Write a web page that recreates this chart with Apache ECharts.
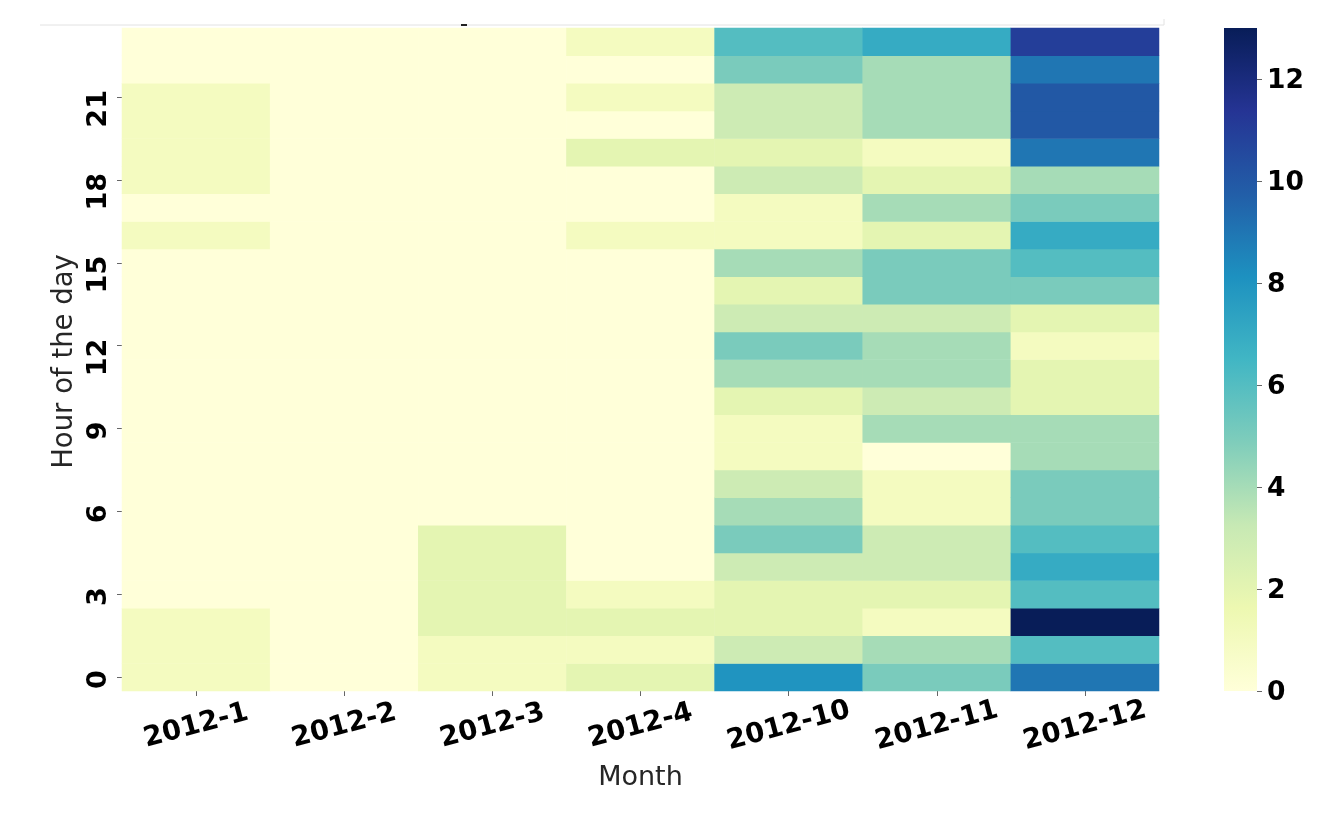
<!DOCTYPE html>
<html>
<head>
<meta charset="utf-8">
<title>Hour of the day by month</title>
<style>
html,body{margin:0;padding:0;background:#fff;}
#main{width:1333px;height:815px;}
</style>
<script src="https://cdn.jsdelivr.net/npm/echarts@6/dist/echarts.min.js"></script>
</head>
<body>
<div id="main"></div>
<script>
var months = ['2012-1','2012-2','2012-3','2012-4','2012-10','2012-11','2012-12'];
var hours = ['0','1','2','3','4','5','6','7','8','9','10','11','12','13','14','15','16','17','18','19','20','21','22','23'];

// counts per hour, hour 0 first
var m2012_1  = [1,1,1,0,0,0,0,0,0,0,0,0,0,0,0,0,1,0,1,1,1,1,0,0];
var m2012_2  = [0,0,0,0,0,0,0,0,0,0,0,0,0,0,0,0,0,0,0,0,0,0,0,0];
var m2012_3  = [1,1,2,2,2,2,0,0,0,0,0,0,0,0,0,0,0,0,0,0,0,0,0,0];
var m2012_4  = [2,1,2,1,0,0,0,0,0,0,0,0,0,0,0,0,1,0,0,2,0,1,0,1];
var m2012_10 = [8,3,2,2,3,5,4,3,1,1,2,4,5,3,2,4,1,1,3,2,3,3,5,6];
var m2012_11 = [5,4,1,2,3,3,1,1,0,4,3,4,4,3,5,5,2,4,2,1,4,4,4,7];
var m2012_12 = [9,6,13,6,7,6,5,5,4,4,2,2,1,2,5,6,7,5,4,9,10,10,9,11];
var columns = [m2012_1,m2012_2,m2012_3,m2012_4,m2012_10,m2012_11,m2012_12];

// seaborn YlGnBu
var ylGnBu = ['#ffffd9','#edf8b1','#c7e9b4','#7fcdbb','#41b6c4','#1d91c0','#225ea8','#253494','#081d58'];

var cells = [];
for(var c = 0; c < columns.length; c++){
	for(var h = 0; h < hours.length; h++){
		cells.push([c,h,columns[c][h]]);
	}
}

// colorbar is the background of the second grid (visualMap's own bar has round corners)
var barStops = ylGnBu.map(function(col,i){
	return {offset:i/(ylGnBu.length-1),color:col};
});

var myChart = echarts.init(document.getElementById('main'));
var tickFont = {fontFamily:'DejaVu Sans',fontWeight:'bold',color:'#000'};
var option = {
	animation:false,
	backgroundColor:'#fff',
	grid:[
		{left:122,top:28,width:1037,height:663},
		{
			left:1224,top:28,width:33,height:663,
			show:true,
			borderWidth:0,
			backgroundColor:new echarts.graphic.LinearGradient(0,1,0,0,barStops)
		}
	],
	xAxis:[
		{
			type:'category',
			data:months,
			gridIndex:0,
			name:'Month',
			nameLocation:'middle',
			nameGap:73,
			nameTextStyle:{fontFamily:'DejaVu Sans',fontSize:27,color:'#262626'},
			axisLine:{show:false},
			axisTick:{show:true,alignWithLabel:true,length:5,lineStyle:{color:'#666',width:1}},
			axisLabel:Object.assign({fontSize:27.5,rotate:15,interval:0,margin:35,align:'center',verticalAlign:'middle'},tickFont),
			splitLine:{show:false}
		},
		{type:'value',gridIndex:1,show:false,min:0,max:1}
	],
	yAxis:[
		{
			type:'category',
			data:hours,
			gridIndex:0,
			name:'Hour of the day',
			nameLocation:'middle',
			nameGap:43,
			nameMoveOverlap:false,
			nameRotate:90,
			nameTextStyle:{fontFamily:'DejaVu Sans',fontSize:27.5,color:'#262626',padding:[0,4,0,0]},
			axisLine:{show:false},
			axisTick:{show:true,alignWithLabel:true,interval:2,length:5,lineStyle:{color:'#666',width:1}},
			axisLabel:Object.assign({fontSize:27,rotate:90,interval:2,margin:23,align:'right',verticalAlign:'middle',padding:[0,-7,0,0]},tickFont),
			splitLine:{show:false}
		},
		{
			type:'value',
			gridIndex:1,
			position:'right',
			min:0,
			max:13,
			interval:2,
			axisLine:{show:false,onZero:false},
			axisTick:{show:true,length:5,lineStyle:{color:'#666',width:1}},
			axisLabel:Object.assign({fontSize:26.5,margin:10,showMaxLabel:false,verticalAlign:'top',padding:[-11,0,0,0]},tickFont),
			splitLine:{show:false}
		}
	],
	visualMap:{
		type:'continuous',
		show:false,
		min:0,
		max:13,
		seriesIndex:0,
		inRange:{color:ylGnBu}
	},
	series:[{
		type:'heatmap',
		xAxisIndex:0,
		yAxisIndex:0,
		data:cells,
		progressive:0,
		emphasis:{disabled:true},
		itemStyle:{borderWidth:0}
	}],
	graphic:[
		// cropped notebook frame along the top of the screenshot
		{type:'polyline',silent:true,shape:{points:[[40,25],[1164,25],[1164,19]]},style:{stroke:'#e2e2e2',lineWidth:1,fill:null}},
		{type:'rect',silent:true,shape:{x:461,y:24,width:6,height:2},style:{fill:'#222'}}
	]
};
myChart.setOption(option);
</script>
</body>
</html>
